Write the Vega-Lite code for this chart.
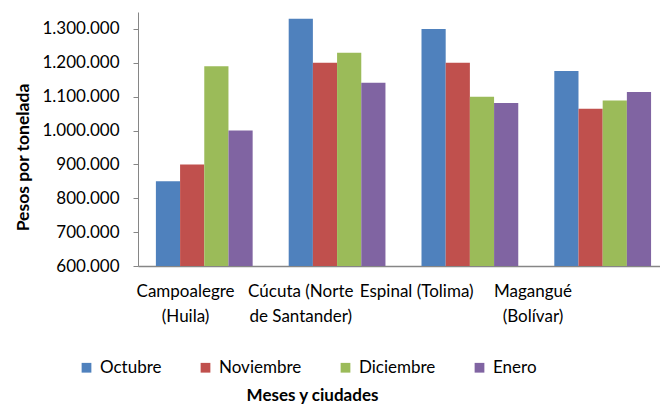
{
  "$schema": "https://vega.github.io/schema/vega-lite/v6.json",
  "autosize": "none",
  "width": 522,
  "height": 254,
  "padding": {"left": 138, "top": 12, "right": 0, "bottom": 139},
  "background": "white",
  "config": {
    "locale": {"number": {"decimal": ",", "thousands": ".", "grouping": [3], "currency": ["$", ""]}},
    "view": {"stroke": null},
    "font": "Lato"
  },
  "data": {
    "values": [
      {"ciudad": "Campoalegre (Huila)", "mes": "Octubre", "valor": 850000},
      {"ciudad": "Campoalegre (Huila)", "mes": "Noviembre", "valor": 900000},
      {"ciudad": "Campoalegre (Huila)", "mes": "Diciembre", "valor": 1190000},
      {"ciudad": "Campoalegre (Huila)", "mes": "Enero", "valor": 1000000},
      {"ciudad": "Cúcuta (Norte de Santander)", "mes": "Octubre", "valor": 1330000},
      {"ciudad": "Cúcuta (Norte de Santander)", "mes": "Noviembre", "valor": 1200000},
      {"ciudad": "Cúcuta (Norte de Santander)", "mes": "Diciembre", "valor": 1230000},
      {"ciudad": "Cúcuta (Norte de Santander)", "mes": "Enero", "valor": 1141000},
      {"ciudad": "Espinal (Tolima)", "mes": "Octubre", "valor": 1300000},
      {"ciudad": "Espinal (Tolima)", "mes": "Noviembre", "valor": 1200000},
      {"ciudad": "Espinal (Tolima)", "mes": "Diciembre", "valor": 1100000},
      {"ciudad": "Espinal (Tolima)", "mes": "Enero", "valor": 1081000},
      {"ciudad": "Magangué (Bolívar)", "mes": "Octubre", "valor": 1176000},
      {"ciudad": "Magangué (Bolívar)", "mes": "Noviembre", "valor": 1064000},
      {"ciudad": "Magangué (Bolívar)", "mes": "Diciembre", "valor": 1089000},
      {"ciudad": "Magangué (Bolívar)", "mes": "Enero", "valor": 1114000}
    ]
  },
  "mark": {"type": "bar", "clip": true},
  "encoding": {
    "x": {
      "field": "ciudad",
      "type": "nominal",
      "sort": null,
      "scale": {"paddingInner": 0.2714, "paddingOuter": 0.101, "align": 0.667},
      "axis": {
        "title": "Meses y ciudades",
        "titleFont": "Lato",
        "titleFontSize": 17,
        "titleFontWeight": "bold",
        "titleColor": "#000000",
        "titleX": 174,
        "titleY": 134,
        "titleBaseline": "alphabetic",
        "titleAnchor": null,
        "titleAlign": "center",
        "labelAngle": 0,
        "labelFont": "Lato",
        "labelFontSize": 17,
        "labelColor": "#000000",
        "labelPadding": 17,
        "labelLineHeight": 25,
        "labelExpr": "datum.label == 'Campoalegre (Huila)' ? ['Campoalegre', '(Huila)'] : datum.label == 'Cúcuta (Norte de Santander)' ? ['Cúcuta (Norte', 'de Santander)'] : datum.label == 'Magangué (Bolívar)' ? ['Magangué', '(Bolívar)'] : datum.label",
        "labelOffset": {
          "condition": [
            {"test": "datum.value == 'Campoalegre (Huila)'", "value": -18.7},
            {"test": "datum.value == 'Cúcuta (Norte de Santander)'", "value": -36.3},
            {"test": "datum.value == 'Espinal (Tolima)'", "value": -53.2}
          ],
          "value": -69.7
        },
        "ticks": false,
        "domainColor": "#868686",
        "domainWidth": 1.5
      }
    },
    "xOffset": {"field": "mes", "type": "nominal", "sort": ["Octubre", "Noviembre", "Diciembre", "Enero"], "scale": {"paddingInner": 0, "paddingOuter": 0}},
    "y": {
      "field": "valor",
      "type": "quantitative",
      "scale": {"domain": [600000, 1350000], "nice": false, "zero": false},
      "axis": {
        "title": "Pesos por tonelada",
        "titleFont": "Lato",
        "titleFontSize": 17.5,
        "titleFontWeight": "bold",
        "titleColor": "#000000",
        "titleX": -110,
        "titleY": 145,
        "titleAngle": -90,
        "titleBaseline": "alphabetic",
        "titleAlign": "center",
        "values": [600000, 700000, 800000, 900000, 1000000, 1100000, 1200000, 1300000],
        "format": ",d",
        "labelFont": "Lato",
        "labelFontSize": 17,
        "labelColor": "#000000",
        "labelPadding": 14,
        "tickSize": 5,
        "tickColor": "#868686",
        "domainColor": "#868686",
        "domainWidth": 1,
        "grid": false
      }
    },
    "color": {
      "field": "mes",
      "type": "nominal",
      "sort": ["Octubre", "Noviembre", "Diciembre", "Enero"],
      "scale": {"domain": ["Octubre", "Noviembre", "Diciembre", "Enero"], "range": ["#4F81BD", "#C0504D", "#9BBB59", "#8064A2"]},
      "legend": {
        "title": null,
        "orient": "none",
        "direction": "horizontal",
        "legendX": -60,
        "legendY": 347,
        "symbolType": "square",
        "symbolSize": 95,
        "symbolStrokeWidth": 0,
        "labelFont": "Lato",
        "labelFontSize": 17,
        "labelColor": "#000000",
        "labelOffset": 5,
        "columnPadding": 35
      }
    }
  }
}
